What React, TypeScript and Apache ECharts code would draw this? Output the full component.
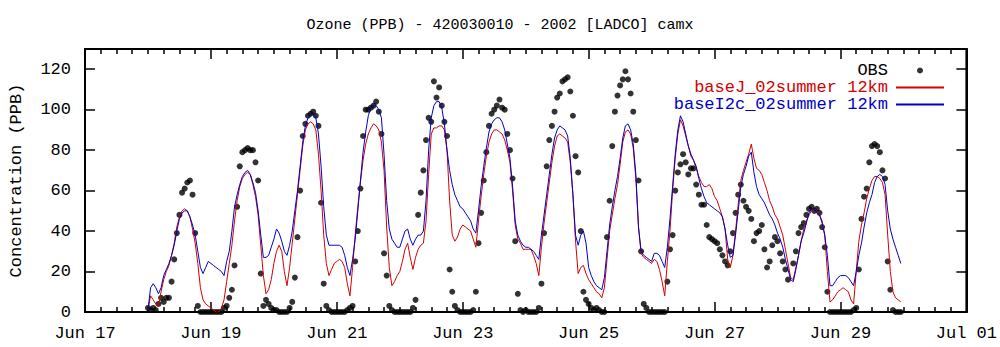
import React, { useEffect, useRef } from 'react';
import * as echarts from 'echarts';

const chartTitle = 'Ozone (PPB) - 420030010 - 2002 [LADCO] camx';
const yAxisName = 'Concentration (PPB)';
const xTickLabels = ['Jun 17', 'Jun 19', 'Jun 21', 'Jun 23', 'Jun 25', 'Jun 27', 'Jun 29', 'Jul 01'];
const seriesNames = ['OBS', 'baseJ_02summer 12km', 'baseI2c_02summer 12km'];
// hours counted from Jun 17 00:00; hourly values start at Jun 18 00:00
const firstHour = 24;

const obs = [
  // Jun 18
  2, 1, 2, 1, 4, 7, 5, 7, 7, 15, 26, 39, 48, 59, 61, 64, 65, 58, 39, 3, 0, 0, 0, 0,
  // Jun 19
  0, 0, 0, 0, 0, 2, 3, 7, 11, 23, 52, 72, 79, 80, 81, 80, 80, 74, 65, 19, 3, 6, 4, 2,
  // Jun 20
  1, 1, 0, 0, 0, 0, 2, 5, 17, 37, 60, 87, 93, 97, 98, 99, 97, 92, 54, 14, 3, 1, 0, 0,
  // Jun 21
  0, 0, 0, 0, 1, 2, 3, 25, 40, 61, 87, 100, 100, 101, 102, 104, 99, 88, 29, 18, 3, 1, 0, 0,
  // Jun 22
  0, 0, 0, 0, 0, 2, 6, 48, 59, 70, 85, 96, 94, 114, 106, 111, 102, 94, 87, 21, 10, 3, 1, 0,
  // Jun 23
  0, 0, 0, 0, 1, 10, 34, 49, 65, 79, 92, 98, 100, 102, 105, 101, 100, 88, 80, 66, 35, 9, 1, 0,
  // Jun 24
  1, 0, 0, 0, 0, 2, 14, 39, 72, 85, 92, 99, 106, 108, 114, 115, 116, 109, 97, 77, 69, 40, 10, 6,
  // Jun 25
  4, 2, 1, 2, 1, 0, 0, 37, 55, 82, 99, 107, 112, 115, 119, 115, 108, 99, 85, 65, 30, 4, 2, 0,
  // Jun 26
  0, 0, 0, 0, 0, 0, 15, 31, 38, 60, 69, 73, 78, 74, 68, 71, 71, 63, 58, 53, 53, 43, 37, 36,
  // Jun 27
  35, 34, 31, 28, 25, 23, 30, 39, 49, 58, 63, 55, 52, 50, 46, 35, 39, 40, 43, 31, 22, 25, 33, 37,
  // Jun 28
  35, 29, 25, 21, 16, null, 24, 30, 39, 42, 44, 48, 51, 52, 50, 51, 49, 42, 32, 10, 0, 0, 0, 0,
  // Jun 29
  0, 0, 0, 0, 0, 1, 2, 21, 46, 57, 61, 74, 82, 83, 82, 79, 70, 66, 25, 11, 1, 0, 0, 0,
];

const baseJ = [
  // Jun 18
  1, 8, 6, 4, 3, 10, 16, 20, 23, 28, 34, 42, 47, 50, 51, 50, 47, 41, 34, 24, 12, 6, 4, 3,
  // Jun 19
  2, 1, 0, 0, 2, 6, 15, 24, 33, 45, 55, 62, 66, 68, 69, 68, 63, 57, 48, 33, 18, 9, 11, 16,
  // Jun 20
  24, 30, 33, 30, 20, 13, 22, 34, 46, 58, 70, 82, 90, 93, 94, 93, 90, 78, 60, 38, 24, 18, 21, 24,
  // Jun 21
  25, 26, 25, 22, 14, 8, 22, 38, 52, 64, 75, 83, 88, 91, 93, 92, 90, 84, 70, 42, 22, 13, 15, 18,
  // Jun 22
  20, 25, 31, 34, 27, 21, 27, 31, 33, 34, 45, 68, 88, 91, 91, 92, 92, 90, 80, 55, 38, 35, 37, 41,
  // Jun 23
  43, 42, 41, 40, 36, 32, 45, 57, 68, 77, 84, 88, 90, 90, 89, 88, 85, 80, 74, 60, 43, 36, 34, 31,
  // Jun 24
  31, 31, 31, 28, 24, 18, 32, 44, 54, 64, 74, 82, 87, 88, 87, 86, 84, 74, 58, 35, 19, 22, 23, 19,
  // Jun 25
  16, 14, 12, 10, 9, 7, 12, 26, 40, 48, 56, 63, 73, 84, 89, 90, 88, 81, 66, 42, 29, 27, 26, 25,
  // Jun 26
  24, 26, 25, 21, 15, 8, 25, 40, 60, 76, 88, 95, 92, 87, 82, 77, 75, 71, 67, 64, 62, 62, 63, 61,
  // Jun 27
  57, 55, 51, 47, 41, 26, 22, 28, 40, 53, 65, 70, 74, 78, 83, 76, 71, 70, 68, 64, 60, 55, 52, 48,
  // Jun 28
  46, 42, 38, 31, 24, 17, 16, 22, 28, 35, 41, 45, 48, 50, 51, 50, 48, 45, 38, 20, 5, 6, 8, 10,
  // Jun 29
  11, 12, 11, 10, 6, 4, 20, 35, 43, 49, 56, 61, 65, 67, 67, 66, 64, 58, 38, 20, 10, 7, 6, 5,
];

const baseI2c = [
  // Jun 18
  1, 12, 14, 12, 9, 12, 18, 21, 24, 28, 33, 40, 46, 49, 50, 50, 47, 43, 38, 30, 22, 19, 22, 25,
  // Jun 19
  24, 23, 22, 21, 20, 18, 25, 30, 40, 52, 58, 63, 67, 69, 70, 68, 64, 59, 50, 38, 27, 27, 28, 32,
  // Jun 20
  36, 41, 39, 35, 30, 28, 33, 40, 50, 60, 72, 84, 92, 96, 97, 98, 96, 88, 72, 52, 38, 33, 33, 33,
  // Jun 21
  33, 33, 32, 28, 22, 18, 26, 36, 50, 65, 79, 89, 97, 101, 102, 102, 100, 96, 78, 55, 41, 36, 34, 32,
  // Jun 22
  32, 36, 40, 41, 36, 33, 36, 38, 38, 40, 55, 80, 96, 102, 104, 104, 101, 93, 80, 70, 63, 58, 55, 52,
  // Jun 23
  51, 49, 47, 45, 41, 39, 50, 62, 72, 81, 89, 93, 95, 96, 96, 94, 90, 83, 76, 62, 45, 38, 35, 33,
  // Jun 24
  32, 32, 31, 30, 28, 26, 38, 48, 58, 68, 78, 86, 90, 92, 91, 90, 87, 76, 58, 38, 33, 38, 40, 34,
  // Jun 25
  22, 18, 15, 13, 12, 11, 17, 30, 43, 52, 60, 67, 76, 86, 92, 93, 90, 83, 68, 42, 30, 28, 27, 26,
  // Jun 26
  25, 29, 29, 28, 25, 22, 32, 46, 62, 78, 90, 97, 94, 88, 82, 78, 75, 72, 66, 61, 57, 54, 53, 52,
  // Jun 27
  51, 50, 49, 47, 41, 33, 27, 28, 38, 50, 62, 68, 72, 77, 79, 69, 62, 58, 56, 54, 51, 48, 46, 43,
  // Jun 28
  39, 36, 32, 26, 21, 16, 15, 21, 28, 35, 39, 44, 49, 51, 51, 49, 48, 44, 38, 28, 13, 13, 15, 17,
  // Jun 29
  18, 18, 18, 17, 15, 13, 20, 28, 34, 42, 49, 54, 58, 64, 67, 68, 67, 63, 50, 41, 36, 32, 28, 24,
];

const toPairs = (vals: (number | null)[]) => vals.map((v, i) => [firstHour + i, v]);

const FONT = "'Liberation Mono', 'DejaVu Sans Mono', monospace";
const RED = '#d40000';
const BLUE = '#0000c8';

export default function App() {
  const ref = useRef<HTMLDivElement>(null);
  useEffect(() => {
    if (!ref.current) return;
    const chart = echarts.init(ref.current, undefined, { renderer: 'svg' });
    const tickLine = { color: '#000', width: 1.5 };
    const xCommon = {
      type: 'value',
      min: 0,
      max: 336,
      interval: 48,
      axisLine: { show: true, onZero: false, lineStyle: { color: '#000', width: 2 } },
      axisTick: { show: true, inside: true, length: 10, lineStyle: tickLine },
      minorTick: { show: true, splitNumber: 8, length: 5, lineStyle: tickLine },
      splitLine: { show: false },
      minorSplitLine: { show: false },
    };
    const yCommon = {
      type: 'value',
      min: 0,
      max: 130,
      interval: 20,
      axisLine: { show: true, onZero: false, lineStyle: { color: '#000', width: 2 } },
      axisTick: { show: true, inside: true, length: 10, lineStyle: tickLine },
      splitLine: { show: false },
    };
    chart.setOption({
      animation: false,
      backgroundColor: '#ffffff',
      title: {
        text: chartTitle,
        left: 'center',
        top: 13,
        textStyle: { fontFamily: FONT, fontSize: 15, fontWeight: 'normal', color: '#000' },
      },
      grid: {
        left: 79,
        right: 30,
        top: 49,
        bottom: 35,
        show: true,
        borderColor: '#000',
        borderWidth: 2,
        backgroundColor: 'transparent',
      },
      legend: {
        orient: 'vertical',
        right: 50,
        top: 57,
        align: 'right',
        itemWidth: 48,
        itemHeight: 6,
        itemGap: 0,
        selectedMode: false,
        textStyle: { fontFamily: FONT, fontSize: 17, lineHeight: 17, padding: [0, 3, 0, 0] },
        data: [
          { name: seriesNames[0], icon: 'circle', textStyle: { color: '#000' } },
          { name: seriesNames[1], itemStyle: { opacity: 0 }, textStyle: { color: RED } },
          { name: seriesNames[2], itemStyle: { opacity: 0 }, textStyle: { color: BLUE } },
        ],
      },
      xAxis: [
        {
          ...xCommon,
          position: 'bottom',
          axisLabel: {
            show: true,
            margin: 13,
            fontFamily: FONT,
            fontSize: 17,
            color: '#000',
            formatter: (v: number) => xTickLabels[Math.round(v / 48)] ?? '',
          },
        },
        { ...xCommon, position: 'top', axisLabel: { show: false } },
      ],
      yAxis: [
        {
          ...yCommon,
          position: 'left',
          name: yAxisName,
          nameLocation: 'middle',
          nameGap: 60,
          nameTextStyle: { fontFamily: FONT, fontSize: 17, color: '#000' },
          axisLabel: {
            show: true,
            margin: 14,
            fontFamily: FONT,
            fontSize: 17,
            color: '#000',
            formatter: (v: number) => (v % 20 === 0 ? String(v) : ''),
          },
        },
        { ...yCommon, position: 'right', axisLabel: { show: false } },
      ],
      series: [
        {
          name: seriesNames[0],
          type: 'scatter',
          data: toPairs(obs),
          symbol: 'circle',
          symbolSize: 6,
          itemStyle: { color: '#000' },
          z: 2,
        },
        {
          name: seriesNames[1],
          type: 'line',
          data: toPairs(baseJ),
          symbol: 'none',
          lineStyle: { color: RED, width: 1 },
          itemStyle: { color: RED },
          z: 3,
        },
        {
          name: seriesNames[2],
          type: 'line',
          data: toPairs(baseI2c),
          symbol: 'none',
          lineStyle: { color: BLUE, width: 1 },
          itemStyle: { color: BLUE },
          z: 4,
        },
      ],
    });
    return () => chart.dispose();
  }, []);
  return (
    <div
      ref={ref}
      style={{ position: 'fixed', left: 0, top: 0, width: 1000, height: 347, background: '#fff' }}
    />
  );
}
